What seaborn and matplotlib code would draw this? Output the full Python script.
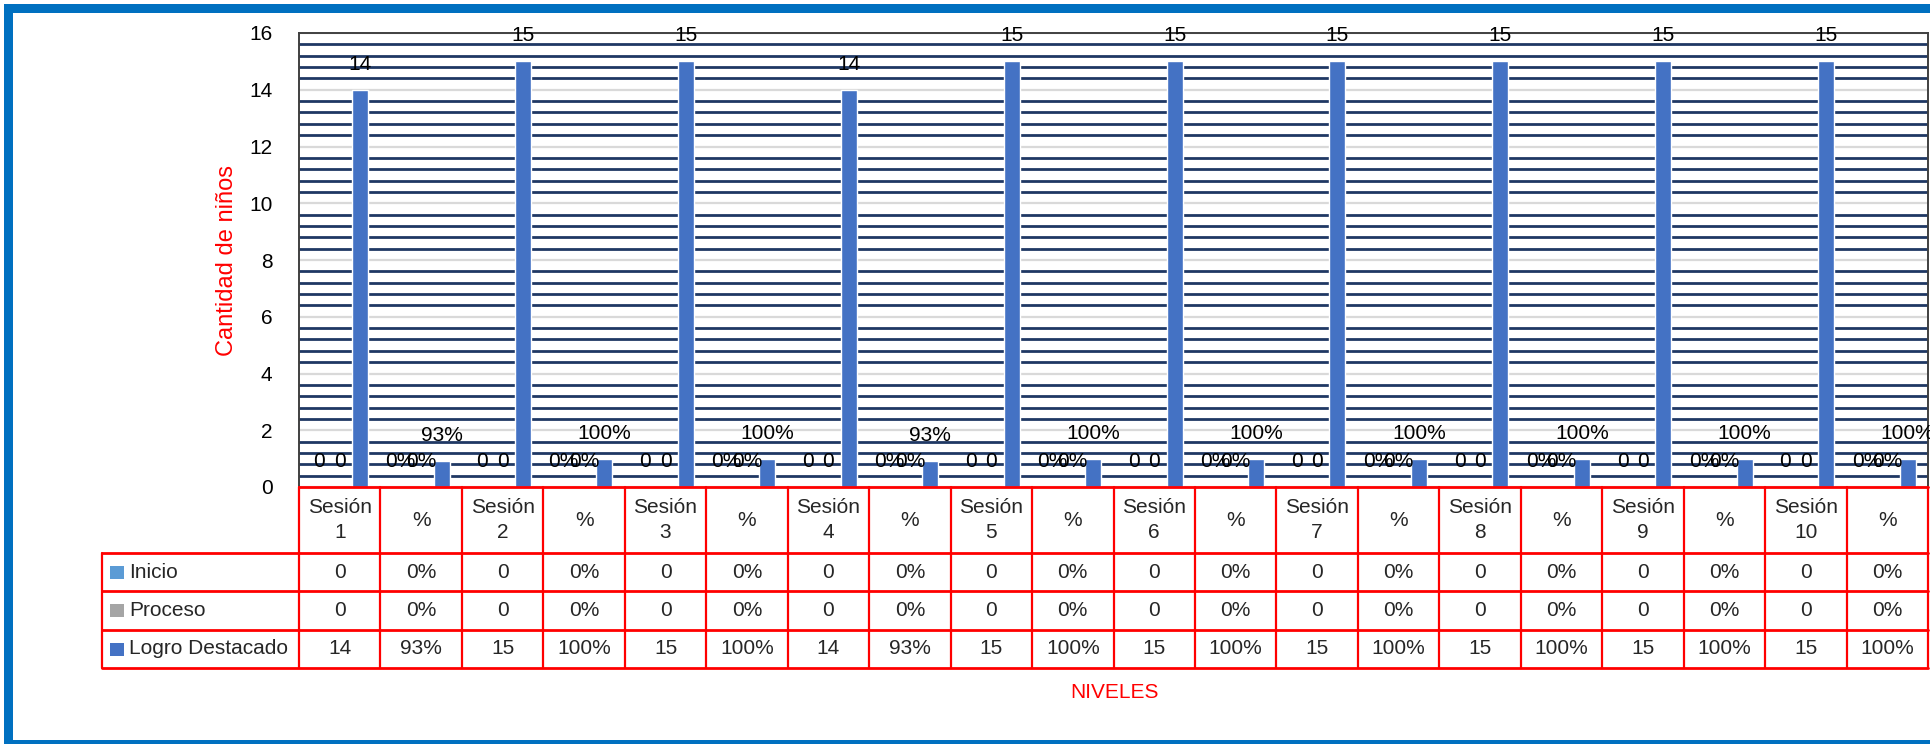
import matplotlib
matplotlib.use("Agg")
import matplotlib.pyplot as plt
from matplotlib.lines import Line2D
from matplotlib.patches import Rectangle
from matplotlib.ticker import MultipleLocator
import seaborn as sns
import pandas as pd

# ---------------- data ----------------
col_labels = ["Sesión\n1", "%", "Sesión\n2", "%", "Sesión\n3", "%", "Sesión\n4", "%",
              "Sesión\n5", "%", "Sesión\n6", "%", "Sesión\n7", "%", "Sesión\n8", "%",
              "Sesión\n9", "%", "Sesión\n10", "%"]
is_pct = [False, True] * 10
series = ["Inicio", "Proceso", "Logro Destacado"]
inicio = [0, 0.0] * 10
proceso = [0, 0.0] * 10
logro = [14, 0.93, 15, 1.00, 15, 1.00, 14, 0.93, 15, 1.00,
         15, 1.00, 15, 1.00, 15, 1.00, 15, 1.00, 15, 1.00]
colors = ["#5B9BD5", "#A5A5A5", "#4472C4"]
y_title = "Cantidad de niños"
x_title = "NIVELES"

values = {"Inicio": inicio, "Proceso": proceso, "Logro Destacado": logro}


def fmt(v, pct):
    return f"{round(v * 100)}%" if pct else f"{int(round(v))}"


rows = []
for s in series:
    for j, v in enumerate(values[s]):
        rows.append({"col": j, "serie": s, "val": v})
df = pd.DataFrame(rows)

# ---------------- figure ----------------
sns.set_theme(style="white")
plt.rcParams["font.family"] = ["Liberation Sans", "DejaVu Sans"]

W, H = 1930, 744
fig = plt.figure(figsize=(W / 100, H / 100), dpi=100)


def fx(px):
    return px / W


def fy(py):
    return 1 - py / H


L, R, T, B = 299, 1928, 33, 487
ax = fig.add_axes([fx(L), fy(B), fx(R) - fx(L), fy(T) - fy(B)])

sns.barplot(data=df, x="col", y="val", hue="serie", order=list(range(20)),
            hue_order=series, palette=colors, saturation=1, width=0.75, gap=0.215,
            legend=False, ax=ax, zorder=3)

ax.set_xlim(-0.5, 19.5)
ax.set_ylim(0, 16)
ax.yaxis.set_major_locator(MultipleLocator(2))
ax.yaxis.set_minor_locator(MultipleLocator(0.4))
ax.set_axisbelow(True)
ax.grid(which="major", axis="y", color="#D9D9D9", linewidth=1.6, zorder=0)
ax.grid(which="minor", axis="y", color="#1F3864", linewidth=2.0, zorder=0)
ax.grid(which="major", axis="x", visible=False)
ax.set_xticks([])
ax.set_xlabel("")
ax.tick_params(axis="y", which="both", left=False, labelsize=15, pad=13, colors="black")
ax.tick_params(axis="y", which="minor", length=0)
ax.set_ylabel(y_title, color="red", fontsize=17, labelpad=8)
for side in ["left", "top", "right"]:
    ax.spines[side].set_visible(True)
    ax.spines[side].set_color("#404040")
    ax.spines[side].set_linewidth(1.4)
ax.spines["bottom"].set_visible(False)

# data labels
for k, cont in enumerate(ax.containers):
    for bar in cont:
        cx = bar.get_x() + bar.get_width() / 2
        j = int(round(cx))
        v = values[series[k]][j]
        ax.text(cx, bar.get_height() + 0.9, fmt(v, is_pct[j]), ha="center", va="center",
                fontsize=15, color="black", zorder=5, clip_on=False)

# ---------------- data table ----------------
cw = (R - L) / 20
row_y = [B, 553, 591, 630, 668]
red = "#FF0000"
leg_left = 102


def hline(x0, x1, y, lw=2):
    fig.add_artist(Line2D([fx(x0), fx(x1)], [fy(y), fy(y)], color=red, lw=lw,
                          transform=fig.transFigure))


def vline(x, y0, y1, lw=1.6):
    fig.add_artist(Line2D([fx(x), fx(x)], [fy(y0), fy(y1)], color=red, lw=lw,
                          transform=fig.transFigure))


hline(L, R, B)
for y in row_y[1:]:
    hline(leg_left, R, y)
for j in range(21):
    vline(L + j * cw, B, row_y[-1])
vline(leg_left, row_y[1], row_y[-1])

for j, lab in enumerate(col_labels):
    cx = L + (j + 0.5) * cw
    fig.text(fx(cx), fy((row_y[0] + row_y[1]) / 2), lab, ha="center", va="center",
             fontsize=15, linespacing=1.35)
    for r, s in enumerate(series):
        cy = (row_y[r + 1] + row_y[r + 2]) / 2
        fig.text(fx(cx), fy(cy), fmt(values[s][j], is_pct[j]), ha="center",
                 va="center", fontsize=15)

for r, s in enumerate(series):
    cy = (row_y[r + 1] + row_y[r + 2]) / 2
    fig.add_artist(Rectangle((fx(110), fy(cy + 6.5)), fx(14), 13 / H,
                             facecolor=colors[r], edgecolor="none",
                             transform=fig.transFigure))
    fig.text(fx(129), fy(cy), s, ha="left", va="center", fontsize=15)

fig.text(fx(1114), fy(692), x_title, ha="center", va="center", fontsize=15, color="red")

# outer blue frame
frame = "#0070C0"
fig.add_artist(Rectangle((fx(4), fy(13)), 1 - fx(4), 9 / H, facecolor=frame,
                         edgecolor="none", transform=fig.transFigure))
fig.add_artist(Rectangle((fx(4), 0), fx(9), fy(4), facecolor=frame,
                         edgecolor="none", transform=fig.transFigure))
fig.add_artist(Rectangle((fx(4), 0), 1 - fx(4), 4 / H, facecolor=frame,
                         edgecolor="none", transform=fig.transFigure))

fig.savefig("out.png", dpi=100)
